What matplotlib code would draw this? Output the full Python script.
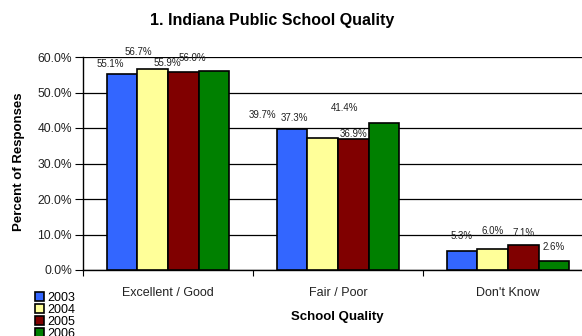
import matplotlib.pyplot as plt
import numpy as np

plt.rcParams['font.family'] = ['Liberation Sans', 'DejaVu Sans']

# dati
categories = ['Excellent / Good', 'Fair / Poor', "Don't Know"]
years = ['2003', '2004', '2005', '2006']
values = {
    '2003': [55.1, 39.7, 5.3],
    '2004': [56.7, 37.3, 6.0],
    '2005': [55.9, 36.9, 7.1],
    '2006': [56.0, 41.4, 2.6],
}
y_ticks = [0, 10, 20, 30, 40, 50, 60]

colori = ['#3366FF', '#FFFF99', '#800000', '#008000']
# spostamento delle etichette (pixel) rispetto alla cima della barra
label_offsets = {
    '2003': [(-12, 10), (-30, 14), (0, 15)],
    '2004': [(-14, 17), (-28, 20), (0, 18)],
    '2005': [(-16, 9), (0, 5), (0, 12)],
    '2006': [(-22, 13), (-39, 15), (0, 14)],
}

fig = plt.figure(figsize=(5.82, 3.36), dpi=100)
ax = fig.add_axes([83 / 582, 66 / 336, 510 / 582, 213 / 336])

x = np.arange(len(categories))
larghezza = 0.18
for i, anno in enumerate(years):
    pos = x + (i - 1.5) * larghezza
    ax.bar(pos, values[anno], width=larghezza, color=colori[i], edgecolor='black',
           linewidth=1.2, label=anno, zorder=3)
    for j, v in enumerate(values[anno]):
        dx, dy = label_offsets[anno][j]
        ax.annotate('%.1f%%' % v, (pos[j], v), xytext=(dx, dy), textcoords='offset pixels',
                    ha='center', va='center', fontsize=7, color='#222222', zorder=4)

ax.set_xlim(-0.5, 2.5)
ax.set_ylim(0, 60)
ax.set_yticks(y_ticks)
ax.set_yticklabels(['%.1f%%' % t for t in y_ticks], fontsize=8.7, color='#222222')
ax.yaxis.grid(True, color='black', linewidth=0.9)
ax.set_axisbelow(True)

# tick tra le categorie, etichette al centro
ax.set_xticks([-0.5, 0.5, 1.5])
ax.set_xticklabels([])
ax.set_xticks(x, minor=True)
ax.set_xticklabels(categories, minor=True, fontsize=9, color='#222222')
ax.tick_params(axis='x', which='minor', length=0, pad=12)
ax.tick_params(axis='x', which='major', length=4, width=0.8)
ax.tick_params(axis='y', length=6, width=0.8, pad=2)

for s in ['right', 'top']:
    ax.spines[s].set_visible(False)
ax.spines['left'].set_linewidth(1.0)
ax.spines['bottom'].set_linewidth(1.0)

fig.text(19 / 582, 1 - 162 / 336, 'Percent of Responses', rotation=90, ha='center',
         va='center', fontsize=9.5, fontweight='bold')
fig.text(337 / 582, 1 - 317 / 336, 'School Quality', ha='center', va='center',
         fontsize=9.5, fontweight='bold')
fig.text(272 / 582, 1 - 21 / 336, '1. Indiana Public School Quality', ha='center',
         va='center', fontsize=11.5, fontweight='bold')

ax.legend(loc='upper left', bbox_to_anchor=(35 / 582, 1 - 292 / 336),
          bbox_transform=fig.transFigure, frameon=False, fontsize=9,
          handlelength=0.75, handleheight=0.75, handletextpad=0.2,
          labelspacing=0.0, borderpad=0, borderaxespad=0)

fig.savefig('out.png', dpi=100)
